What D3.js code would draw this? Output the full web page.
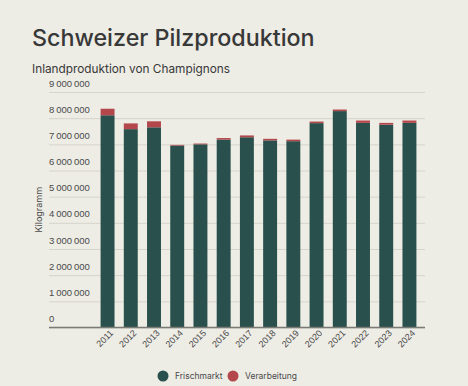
<!DOCTYPE html>
<html>
<head>
    <meta charset="UTF-8">
    <title>Schweizer Pilzproduktion</title>
    <style>
        body {
            margin: 0;
            background: #edece5;
            font-family: 'Inter', 'Liberation Sans', sans-serif;
        }
        .tick text {
            fill: #4a4a4a;
            font-size: 9.5px;
        }
    </style>
</head>
<body>
    <script src="https://d3js.org/d3.v7.min.js"></script>
    <script>
        // data
        var years = ["2011", "2012", "2013", "2014", "2015", "2016", "2017",
            "2018", "2019", "2020", "2021", "2022", "2023", "2024"];
        var frischmarkt = [8110000, 7580000, 7650000, 6950000, 7000000, 7180000, 7270000,
            7150000, 7120000, 7810000, 8270000, 7820000, 7750000, 7820000];
        var verarbeitung = [250000, 220000, 230000, 30000, 30000, 60000, 70000,
            60000, 60000, 60000, 60000, 90000, 70000, 90000];
        var seriesNames = ["Frischmarkt", "Verarbeitung"];
        var yTicks = [0, 1000000, 2000000, 3000000, 4000000, 5000000, 6000000, 7000000, 8000000, 9000000];

        var colors = {"Frischmarkt": "#29504c", "Verarbeitung": "#b3474c"};

        var width = 468, height = 386;
        var svg = d3.select("body").append("svg")
            .attr("width", width)
            .attr("height", height);

        svg.append("rect").attr("width", width).attr("height", height).attr("fill", "#edece5");

        // titles
        svg.append("text")
            .attr("x", 32).attr("y", 46)
            .attr("fill", "#383838")
            .style("font-size", "23.3px")
            .style("font-weight", "500")
            .text("Schweizer Pilzproduktion");
        svg.append("text")
            .attr("x", 32).attr("y", 73)
            .attr("fill", "#383838")
            .style("font-size", "11.8px")
            .text("Inlandproduktion von Champignons");

        var gridLeft = 49, plotLeft = 92, plotRight = 425, plotTop = 92, plotBottom = 327.5;

        var x = d3.scaleBand()
            .domain(years)
            .range([plotLeft, plotRight])
            .paddingInner(0.4)
            .paddingOuter(0.37);
        var y = d3.scaleLinear().domain([0, 9000000]).range([plotBottom, plotTop]);

        var fmt = function(d) { return d3.format(",")(d).replace(/,/g, "\u2009"); };

        // grid + y labels
        var yAxis = svg.append("g")
            .attr("transform", "translate(" + gridLeft + ",0)")
            .call(d3.axisRight(y).tickValues(yTicks).tickSize(plotRight - gridLeft).tickFormat(fmt));
        yAxis.select(".domain").remove();
        yAxis.selectAll(".tick line").attr("stroke", "#d6d5cc").attr("stroke-width", 1);
        yAxis.selectAll(".tick text")
            .attr("x", 0).attr("dy", -6)
            .attr("text-anchor", "start");

        svg.append("text")
            .attr("transform", "translate(42," + ((plotTop + plotBottom) / 2) + ") rotate(-90)")
            .attr("text-anchor", "middle")
            .attr("fill", "#4a4a4a")
            .style("font-size", "9px")
            .text("Kilogramm");

        // stacked bars
        var rows = years.map(function(yr, i) {
            return {year: yr, Frischmarkt: frischmarkt[i], Verarbeitung: verarbeitung[i]};
        });
        var stack = d3.stack().keys(seriesNames)(rows);

        svg.append("g").selectAll("g")
            .data(stack)
            .join("g")
            .attr("fill", function(d) { return colors[d.key]; })
            .selectAll("rect")
            .data(function(d) { return d; })
            .join("rect")
            .attr("x", function(d) { return x(d.data.year); })
            .attr("y", function(d) { return y(d[1]); })
            .attr("width", x.bandwidth())
            .attr("height", function(d) { return y(d[0]) - y(d[1]); });

        // x axis
        var xAxis = svg.append("g")
            .attr("transform", "translate(0," + plotBottom + ")")
            .call(d3.axisBottom(x).tickSize(0));
        xAxis.select(".domain").attr("d", "M" + gridLeft + ",0H" + plotRight)
            .attr("stroke", "#7a7a75").attr("stroke-width", 1.5);
        xAxis.selectAll(".tick text")
            .style("font-size", "9px")
            .attr("text-anchor", "end")
            .attr("transform", "translate(4,4) rotate(-45)")
            .attr("dy", "0.35em")
            .attr("y", 0);

        // legend
        var legend = svg.append("g").attr("transform", "translate(0,376)");
        var lx = [163, 233];
        seriesNames.forEach(function(name, i) {
            legend.append("circle")
                .attr("cx", lx[i]).attr("cy", 0).attr("r", 5.5)
                .attr("fill", colors[name]);
            legend.append("text")
                .attr("x", lx[i] + 12).attr("y", 0)
                .attr("dy", "0.35em")
                .attr("fill", "#4a4a4a")
                .style("font-size", "8.5px")
                .text(name);
        });
    </script>
</body>
</html>
